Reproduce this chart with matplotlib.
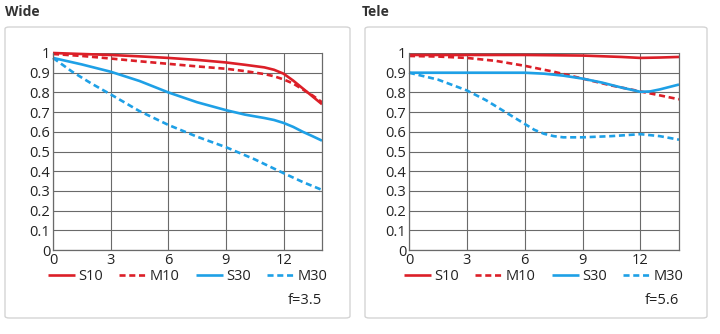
import matplotlib
matplotlib.use("Agg")
import matplotlib.pyplot as plt
from matplotlib.patches import FancyBboxPatch

plt.rcParams['font.family'] = ['Open Sans', 'DejaVu Sans']

# ---- data ----
wide_s10_x = [0, 1.5, 3, 4.5, 6, 7.5, 9, 10, 11, 11.5, 12, 12.5, 13, 13.5, 14]
wide_s10_y = [1.0, 0.995, 0.99, 0.983, 0.975, 0.965, 0.952, 0.94, 0.927, 0.915, 0.895, 0.86, 0.82, 0.78, 0.74]
wide_m10_x = [0, 1.5, 3, 4.5, 6, 7.5, 9, 10, 11, 11.5, 12, 12.5, 13, 13.5, 14]
wide_m10_y = [0.995, 0.985, 0.972, 0.958, 0.945, 0.932, 0.92, 0.908, 0.893, 0.882, 0.866, 0.845, 0.815, 0.785, 0.75]
wide_s30_x = [0, 1.5, 3, 4.5, 6, 7.5, 9, 10, 11, 11.5, 12, 12.5, 13, 13.5, 14]
wide_s30_y = [0.975, 0.942, 0.905, 0.858, 0.80, 0.75, 0.71, 0.687, 0.67, 0.66, 0.645, 0.625, 0.60, 0.578, 0.555]
wide_m30_x = [0, 1, 2, 3, 4.5, 6, 7.5, 9, 10.5, 12, 13, 14]
wide_m30_y = [0.975, 0.905, 0.845, 0.79, 0.705, 0.635, 0.575, 0.522, 0.46, 0.39, 0.345, 0.305]

tele_s10_x = [0, 3, 6, 9, 11, 12, 13, 14]
tele_s10_y = [0.99, 0.99, 0.99, 0.987, 0.98, 0.975, 0.977, 0.98]
tele_m10_x = [0, 1.5, 3, 4.5, 6, 7.5, 9, 10.5, 12, 13, 14]
tele_m10_y = [0.985, 0.982, 0.975, 0.96, 0.935, 0.905, 0.87, 0.835, 0.805, 0.785, 0.765]
tele_s30_x = [0, 3, 6, 7, 8, 9, 10, 11, 12, 12.5, 13, 14]
tele_s30_y = [0.90, 0.90, 0.90, 0.895, 0.885, 0.87, 0.85, 0.825, 0.803, 0.805, 0.815, 0.84]
tele_m30_x = [0, 1.5, 3, 4, 5, 6, 6.5, 7, 7.5, 8, 9, 10.5, 12, 13, 14]
tele_m30_y = [0.90, 0.865, 0.81, 0.76, 0.70, 0.64, 0.61, 0.59, 0.578, 0.572, 0.572, 0.578, 0.588, 0.578, 0.56]

x_ticks = [0, 3, 6, 9, 12]
y_ticks = [0, 0.1, 0.2, 0.3, 0.4, 0.5, 0.6, 0.7, 0.8, 0.9, 1]
y_labels = ['0', '0.1', '0.2', '0.3', '0.4', '0.5', '0.6', '0.7', '0.8', '0.9', '1']
series_names = ['S10', 'M10', 'S30', 'M30']
panel_titles = ['Wide', 'Tele']
f_labels = ['f=3.5', 'f=5.6']

RED = '#dc1f28'
BLUE = '#1ea0e6'

W, H = 720, 334
fig = plt.figure(figsize=(7.2, 3.34), dpi=100)

def fx(px):
    return px / W

def fy(py):
    return 1 - py / H

panels = [
    dict(box=(5, 27, 350, 318), ax=(53, 53, 322, 250), tx=5,
         data=[(wide_s10_x, wide_s10_y), (wide_m10_x, wide_m10_y),
               (wide_s30_x, wide_s30_y), (wide_m30_x, wide_m30_y)]),
    dict(box=(365, 27, 707, 318), ax=(409, 53, 679, 250), tx=362,
         data=[(tele_s10_x, tele_s10_y), (tele_m10_x, tele_m10_y),
               (tele_s30_x, tele_s30_y), (tele_m30_x, tele_m30_y)]),
]

styles = [(RED, '-'), (RED, (0, (2.3, 1.4))), (BLUE, '-'), (BLUE, (0, (2.3, 1.4)))]

for i, p in enumerate(panels):
    x0, y0, x1, y1 = p['box']
    box = FancyBboxPatch((fx(x0), fy(y1)), fx(x1 - x0), (y1 - y0) / H,
                         boxstyle='round,pad=0,rounding_size=0.006',
                         transform=fig.transFigure, facecolor='white',
                         edgecolor='#d4d4d4', linewidth=1.0, zorder=-5)
    fig.patches.append(box)
    fig.text(fx(p['tx']), fy(12), panel_titles[i], fontsize=10, fontweight='bold',
             color='#333333', ha='left', va='center')

    ax0, ay0, ax1, ay1 = p['ax']
    ax = fig.add_axes([fx(ax0), fy(ay1), fx(ax1 - ax0), (ay1 - ay0) / H])
    ax.set_zorder(2)
    ax.patch.set_alpha(0)
    ax.set_xlim(0, 14)
    ax.set_ylim(0, 1)
    ax.set_xticks(x_ticks)
    ax.set_yticks(y_ticks)
    ax.set_yticklabels(y_labels)
    ax.grid(True, color='#6a6a6a', linewidth=0.8)
    ax.set_axisbelow(True)
    ax.spines['top'].set_visible(False)
    for s in ['left', 'bottom', 'right']:
        ax.spines[s].set_color('#6a6a6a')
        ax.spines[s].set_linewidth(0.9)
    ax.tick_params(length=0, pad=2, labelsize=10.5, colors='#222222')

    lines = []
    for (xs, ys), (c, ls), name in zip(p['data'], styles, series_names):
        ln, = ax.plot(xs, ys, color=c, linestyle=ls, linewidth=1.9, label=name,
                      clip_on=False, solid_capstyle='butt', dash_capstyle='butt')
        lines.append(ln)

    ax.legend(handles=lines, loc='center', bbox_to_anchor=(0.50, -0.135),
              ncol=4, frameon=False, fontsize=10.5, handlelength=1.85,
              handletextpad=0.25, columnspacing=1.1, borderaxespad=0,
              labelcolor='#222222')
    ax.text(1.0, -0.255, f_labels[i], transform=ax.transAxes, ha='right',
            va='center', fontsize=10.5, color='#222222')

fig.savefig('out.png', dpi=100, facecolor='white')
